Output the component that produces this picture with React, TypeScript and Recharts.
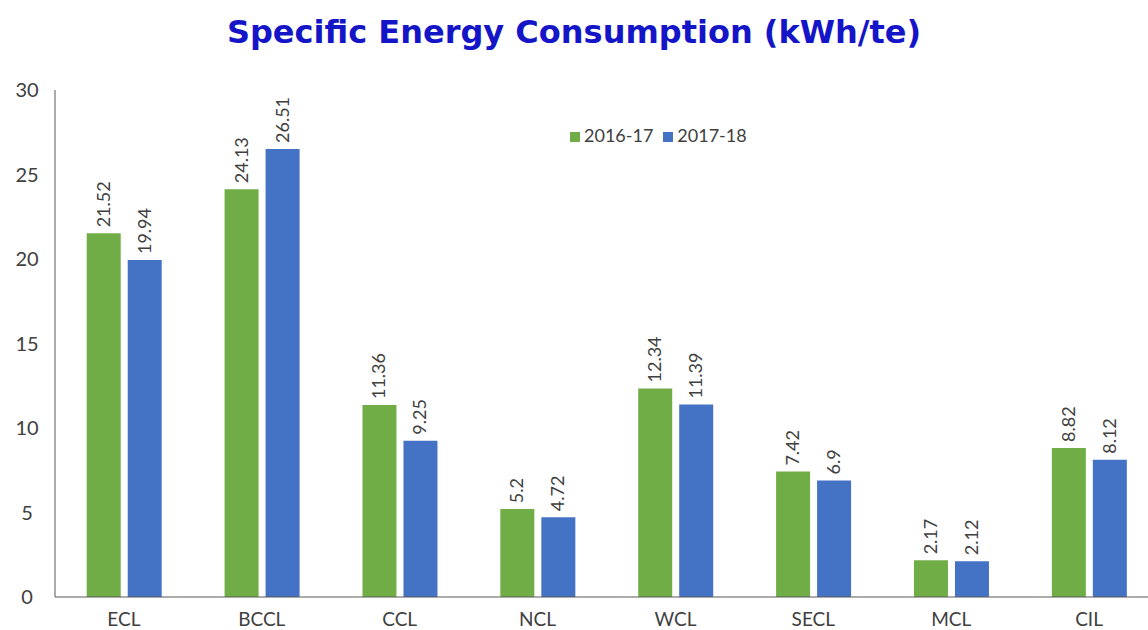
import { BarChart, Bar, XAxis, YAxis, Legend, LabelList } from 'recharts';

const companies = ['ECL', 'BCCL', 'CCL', 'NCL', 'WCL', 'SECL', 'MCL', 'CIL'];
const fy2016 = [21.52, 24.13, 11.36, 5.2, 12.34, 7.42, 2.17, 8.82];
const fy2017 = [19.94, 26.51, 9.25, 4.72, 11.39, 6.9, 2.12, 8.12];
const yTicks = [0, 5, 10, 15, 20, 25, 30];

const GREEN = '#70ad47';
const BLUE = '#4472c4';
const FONT = 'Lato, "DejaVu Sans", sans-serif';

const chartData = companies.map((name, i) => ({
    name,
    y2016: fy2016[i],
    y2017: fy2017[i],
}));

// vertical value label sitting above each bar
const VerticalLabel = (props: any) => {
    const { x, y, width, value } = props;
    const cx = x + width / 2 + 6;
    const cy = y - 6;
    return (
        <text
            x={cx}
            y={cy}
            transform={`rotate(-90, ${cx}, ${cy})`}
            textAnchor="start"
            fontSize={18}
            fill="#404040"
            fontFamily={FONT}
        >
            {value}
        </text>
    );
};

export default function App() {
    return (
        <div style={{ position: 'absolute', left: 0, top: 0, width: 1148, height: 630, overflow: 'hidden', background: '#fff' }}>
            <div
                style={{
                    position: 'absolute', left: 0, top: 13, width: 1148, textAlign: 'center',
                    fontFamily: '"DejaVu Sans", sans-serif', fontWeight: 'bold', fontSize: 32, color: '#1515c8',
                }}
            >
                Specific Energy Consumption (kWh/te)
            </div>
            <BarChart
                width={1158}
                height={630}
                data={chartData}
                margin={{ top: 68, right: 0, left: 0, bottom: 0 }} // legend adds ~22px on top
                barCategoryGap="23%"
                barGap={7}
            >
                <XAxis
                    dataKey="name"
                    height={33}
                    tickLine={false}
                    axisLine={{ stroke: '#595959' }}
                    tick={{ fill: '#404040', fontSize: 19, fontFamily: FONT }}
                    tickMargin={10}
                />
                <YAxis
                    width={55}
                    domain={[0, 30]}
                    ticks={yTicks}
                    tickLine={false}
                    axisLine={{ stroke: '#595959' }}
                    tick={{ fill: '#404040', fontSize: 20, fontFamily: FONT, textAnchor: 'middle', dx: -20 }}
                />
                <Legend
                    verticalAlign="top"
                    align="left"
                    iconType="square"
                    iconSize={10}
                    wrapperStyle={{ top: 124, left: 570, width: 200, fontFamily: FONT, fontSize: 18 }}
                    formatter={(value) => <span style={{ color: '#404040' }}>{value}</span>}
                />
                <Bar dataKey="y2016" name="2016-17" fill={GREEN} isAnimationActive={false}>
                    <LabelList dataKey="y2016" content={VerticalLabel} />
                </Bar>
                <Bar dataKey="y2017" name="2017-18" fill={BLUE} isAnimationActive={false}>
                    <LabelList dataKey="y2017" content={VerticalLabel} />
                </Bar>
            </BarChart>
        </div>
    );
}
